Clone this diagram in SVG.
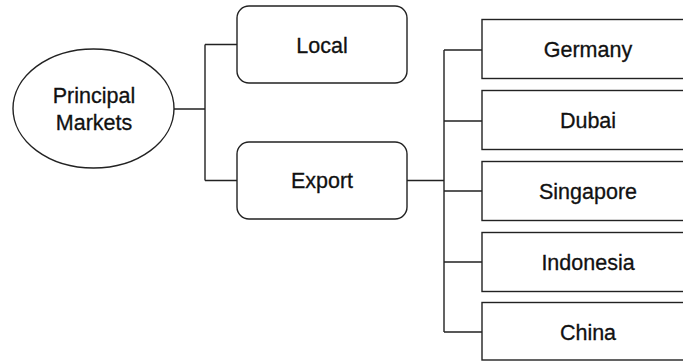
<svg xmlns="http://www.w3.org/2000/svg" width="683" height="361" viewBox="0 0 683 361">
<style>
.n{fill:#fff;stroke:#222;stroke-width:1.4}
.c{fill:none;stroke:#222;stroke-width:1.4}
text{font-family:"Liberation Sans",Arial,sans-serif;font-size:21.5px;fill:#111;stroke:#111;stroke-width:0.3;text-anchor:middle}
</style>
<rect width="683" height="361" fill="#fff"/>
<g id="connectors">
<path class="c" d="M174 109H205M205 44.5V180.5M205 44.5H237M205 180.5H237"/>
<path class="c" d="M407 180.5H444M444 50V332M444 50H482M444 121H482M444 191H482M444 262H482M444 332H482"/>
</g>
<g id="principal">
<ellipse class="n" cx="93.5" cy="108.5" rx="80.5" ry="59.5"/>
<text x="94" y="103">Principal</text>
<text x="94" y="130">Markets</text>
</g>
<g id="local">
<rect class="n" x="237" y="6" width="170" height="77" rx="12"/>
<text x="322" y="53">Local</text>
</g>
<g id="export">
<rect class="n" x="237" y="142" width="170" height="77" rx="12"/>
<text x="322" y="188">Export</text>
</g>
<g id="germany">
<rect class="n" x="482" y="19.5" width="215" height="59"/>
<text x="588" y="57">Germany</text>
</g>
<g id="dubai">
<rect class="n" x="482" y="90.5" width="215" height="59"/>
<text x="588" y="128">Dubai</text>
</g>
<g id="singapore">
<rect class="n" x="482" y="161.5" width="215" height="59"/>
<text x="588" y="199">Singapore</text>
</g>
<g id="indonesia">
<rect class="n" x="482" y="232.5" width="215" height="59"/>
<text x="588" y="270">Indonesia</text>
</g>
<g id="china">
<rect class="n" x="482" y="302.5" width="215" height="57.5"/>
<text x="588" y="340">China</text>
</g>
</svg>
